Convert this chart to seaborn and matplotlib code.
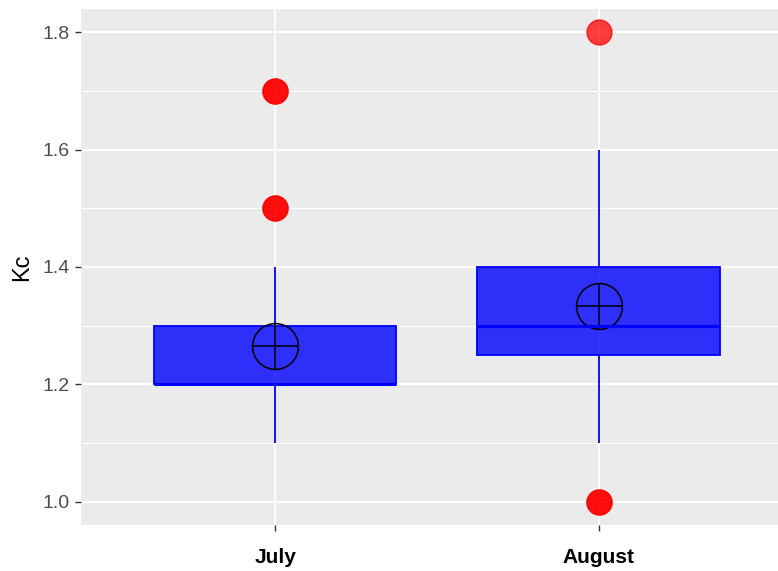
import pandas as pd
import matplotlib
matplotlib.use('Agg')
import matplotlib.pyplot as plt
from matplotlib.ticker import MultipleLocator
import seaborn as sns

# data (Kc values per month)
months = ['July', 'August']
july_kc = [1.1, 1.1, 1.1, 1.1,
           1.2, 1.2, 1.2, 1.2, 1.2, 1.2, 1.2, 1.2,
           1.2, 1.2, 1.2, 1.2, 1.2, 1.2, 1.2, 1.2,
           1.3, 1.3, 1.3, 1.3, 1.3, 1.3, 1.3,
           1.4, 1.5, 1.5, 1.7, 1.7]
august_kc = [1.0, 1.0, 1.1, 1.2, 1.25, 1.25,
             1.3, 1.3, 1.3, 1.3, 1.3,
             1.4, 1.4, 1.4, 1.4, 1.4, 1.4, 1.4,
             1.5, 1.6, 1.8]
y_ticks = [1.0, 1.2, 1.4, 1.6, 1.8]
y_ticklabels = ['1.0', '1.2', '1.4', '1.6', '1.8']

df = pd.DataFrame({
    'month': ['July'] * len(july_kc) + ['August'] * len(august_kc),
    'Kc': july_kc + august_kc,
})

plt.rcParams['font.family'] = ['Liberation Sans', 'DejaVu Sans']

fig = plt.figure(figsize=(7.78, 5.71), dpi=100)
ax = fig.add_axes([0.1041, 0.0806, 0.8959, 0.9036])
ax.set_facecolor('#EBEBEB')

sns.boxplot(data=df, x='month', y='Kc', order=months, width=0.75,
            color='blue', saturation=1, linecolor='blue', linewidth=1.3,
            showcaps=False,
            boxprops=dict(facecolor=(0, 0, 1, 0.8), edgecolor='blue'),
            medianprops=dict(color='blue', linewidth=2.2),
            whiskerprops=dict(color='blue'),
            flierprops=dict(marker='o', markerfacecolor='red', markeredgecolor='red',
                            markersize=18, alpha=0.75),
            ax=ax)

# mean marker: open circle with a cross
sns.pointplot(data=df, x='month', y='Kc', order=months, estimator='mean',
              errorbar=None, markers='o', linestyles='none', color='black',
              markersize=33, markerfacecolor='none', markeredgewidth=1.1, ax=ax)
sns.pointplot(data=df, x='month', y='Kc', order=months, estimator='mean',
              errorbar=None, markers='+', linestyles='none', color='black',
              markersize=33, markeredgewidth=1.1, ax=ax)

ax.set_xlim(-0.6, 1.554)
ax.set_ylim(0.96, 1.84)
ax.set_yticks(y_ticks)
ax.set_yticklabels(y_ticklabels)
ax.yaxis.set_minor_locator(MultipleLocator(0.1))

ax.set_axisbelow(True)
ax.grid(which='major', color='white', linewidth=1.3)
ax.grid(which='minor', axis='y', color='white', linewidth=0.7)
for s in ax.spines.values():
    s.set_visible(False)

ax.tick_params(which='minor', length=0)
ax.tick_params(axis='y', which='major', length=4.5, width=1, color='#333333',
               labelcolor='#4D4D4D', labelsize=14, pad=3.5)
ax.tick_params(axis='x', which='major', length=4.5, width=1, color='#333333',
               labelcolor='black', labelsize=15, pad=12)
for lbl in ax.get_xticklabels():
    lbl.set_fontweight('bold')

ax.set_xlabel('')
ax.set_ylabel('Kc', fontsize=17, color='black', labelpad=7)

fig.savefig('out.png', dpi=100)
